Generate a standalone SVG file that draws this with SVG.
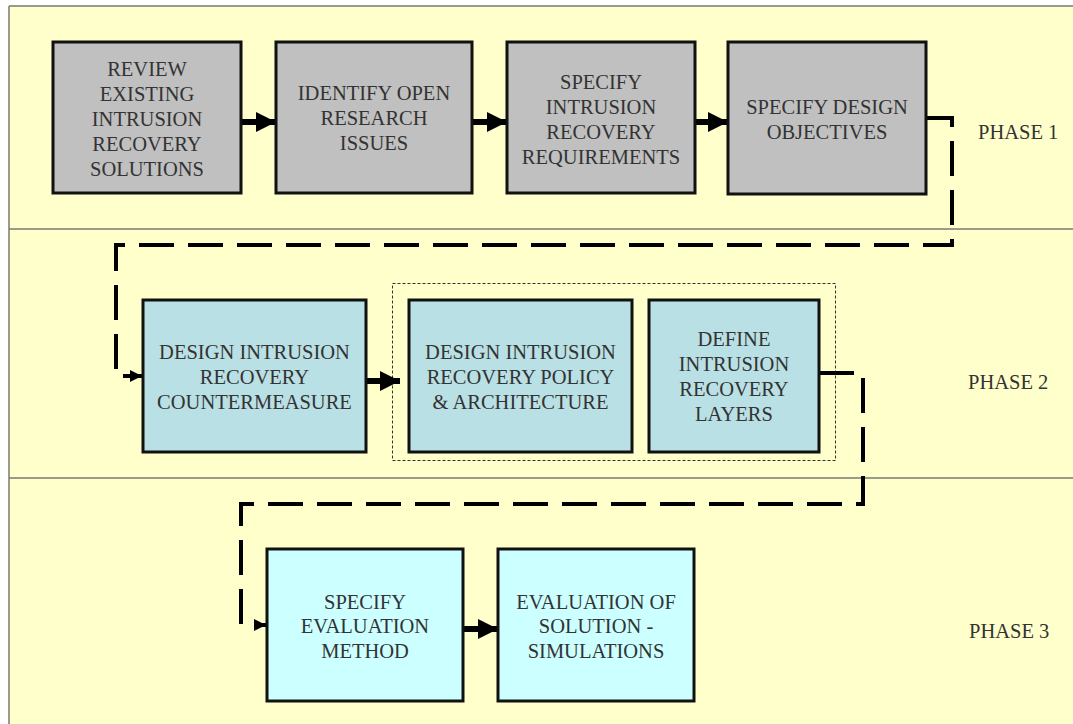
<svg xmlns="http://www.w3.org/2000/svg" width="1073" height="724" viewBox="0 0 1073 724">
  <style>
    .lane { fill: #FFFFCC; stroke: none; }
    .rule { stroke: #7a7a72; stroke-width: 1.5; fill: none; }
    .box { stroke: #111; stroke-width: 3; }
    .p1 { fill: #C0C0C0; }
    .p2 { fill: #B9E0E4; }
    .p3 { fill: #CCFFFF; }
    text { font-family: "Liberation Serif", "Times New Roman", serif; font-size: 20.5px; fill: #333; }
    .mid { text-anchor: middle; }
    .flow { stroke: #000; stroke-width: 6; fill: none; }
    .jump { stroke: #000; stroke-width: 4; fill: none; stroke-dasharray: 35 14; }
    .group { fill: none; stroke: #333; stroke-width: 1; stroke-dasharray: 3 2; }
  </style>
  <defs>
    <marker id="head" markerUnits="userSpaceOnUse" markerWidth="20" markerHeight="20" refX="20" refY="10" orient="auto">
      <path d="M0,0 L20,10 L0,20 Z" fill="#000"/>
    </marker>
    <marker id="tip" markerUnits="userSpaceOnUse" markerWidth="12" markerHeight="12" refX="12" refY="6" orient="auto">
      <path d="M0,0 L12,6 L0,12 Z" fill="#000"/>
    </marker>
  </defs>

  <!-- page background with the three phase bands -->
  <rect width="1073" height="724" fill="#fff"/>
  <rect class="lane" x="9" y="6" width="1064" height="718"/>
  <path class="rule" d="M9,6 H1073 M9,6 V724 M9,229 H1073 M9,478 H1073"/>

  <!-- phase labels -->
  <g id="phase-labels">
    <text x="978" y="139">PHASE 1</text>
    <text x="968" y="389">PHASE 2</text>
    <text x="969" y="638">PHASE 3</text>
  </g>

  <!-- grouping frame around policy and layers -->
  <rect id="policy-group" class="group" x="392.5" y="283.5" width="443" height="177"/>

  <!-- connectors -->
  <g id="connectors">
    <path class="flow" d="M241,122 H276" marker-end="url(#head)"/>
    <path class="flow" d="M472,122 H507" marker-end="url(#head)"/>
    <path class="flow" d="M695,122 H728" marker-end="url(#head)"/>
    <path class="flow" d="M366,381 H400" marker-end="url(#head)"/>
    <path class="flow" d="M463,629 H498" marker-end="url(#head)"/>
    <path class="jump" d="M926,118 H952 V245 H116 V376 H142" marker-end="url(#tip)"/>
    <path class="jump" d="M819,373 H863 V504 H241 V625 H266" marker-end="url(#tip)"/>
  </g>

  <!-- phase 1 -->
  <g id="review-solutions">
    <rect class="box p1" x="53" y="42" width="188" height="151"/>
    <text class="mid" x="147" y="76">REVIEW</text>
    <text class="mid" x="147" y="101">EXISTING</text>
    <text class="mid" x="147" y="126">INTRUSION</text>
    <text class="mid" x="147" y="151">RECOVERY</text>
    <text class="mid" x="147" y="176">SOLUTIONS</text>
  </g>
  <g id="identify-issues">
    <rect class="box p1" x="276" y="42" width="196" height="151"/>
    <text class="mid" x="374" y="100">IDENTIFY OPEN</text>
    <text class="mid" x="374" y="125">RESEARCH</text>
    <text class="mid" x="374" y="150">ISSUES</text>
  </g>
  <g id="specify-requirements">
    <rect class="box p1" x="507" y="42" width="188" height="151"/>
    <text class="mid" x="601" y="89">SPECIFY</text>
    <text class="mid" x="601" y="114">INTRUSION</text>
    <text class="mid" x="601" y="139">RECOVERY</text>
    <text class="mid" x="601" y="164">REQUIREMENTS</text>
  </g>
  <g id="specify-objectives">
    <rect class="box p1" x="728" y="42" width="198" height="152"/>
    <text class="mid" x="827" y="114">SPECIFY DESIGN</text>
    <text class="mid" x="827" y="139">OBJECTIVES</text>
  </g>

  <!-- phase 2 -->
  <g id="design-countermeasure">
    <rect class="box p2" x="143" y="300" width="223" height="152"/>
    <text class="mid" x="254.5" y="359">DESIGN INTRUSION</text>
    <text class="mid" x="254.5" y="384">RECOVERY</text>
    <text class="mid" x="254.5" y="409">COUNTERMEASURE</text>
  </g>
  <g id="design-policy">
    <rect class="box p2" x="409" y="300" width="223" height="152"/>
    <text class="mid" x="520.5" y="359">DESIGN INTRUSION</text>
    <text class="mid" x="520.5" y="384">RECOVERY POLICY</text>
    <text class="mid" x="520.5" y="409">&amp; ARCHITECTURE</text>
  </g>
  <g id="define-layers">
    <rect class="box p2" x="649" y="300" width="170" height="152"/>
    <text class="mid" x="734" y="346">DEFINE</text>
    <text class="mid" x="734" y="371">INTRUSION</text>
    <text class="mid" x="734" y="396">RECOVERY</text>
    <text class="mid" x="734" y="421">LAYERS</text>
  </g>

  <!-- phase 3 -->
  <g id="specify-evaluation">
    <rect class="box p3" x="267" y="549" width="196" height="152"/>
    <text class="mid" x="365" y="609">SPECIFY</text>
    <text class="mid" x="365" y="633">EVALUATION</text>
    <text class="mid" x="365" y="658">METHOD</text>
  </g>
  <g id="evaluate-solution">
    <rect class="box p3" x="498" y="549" width="196" height="152"/>
    <text class="mid" x="596" y="609">EVALUATION OF</text>
    <text class="mid" x="596" y="633">SOLUTION -</text>
    <text class="mid" x="596" y="658">SIMULATIONS</text>
  </g>
</svg>
